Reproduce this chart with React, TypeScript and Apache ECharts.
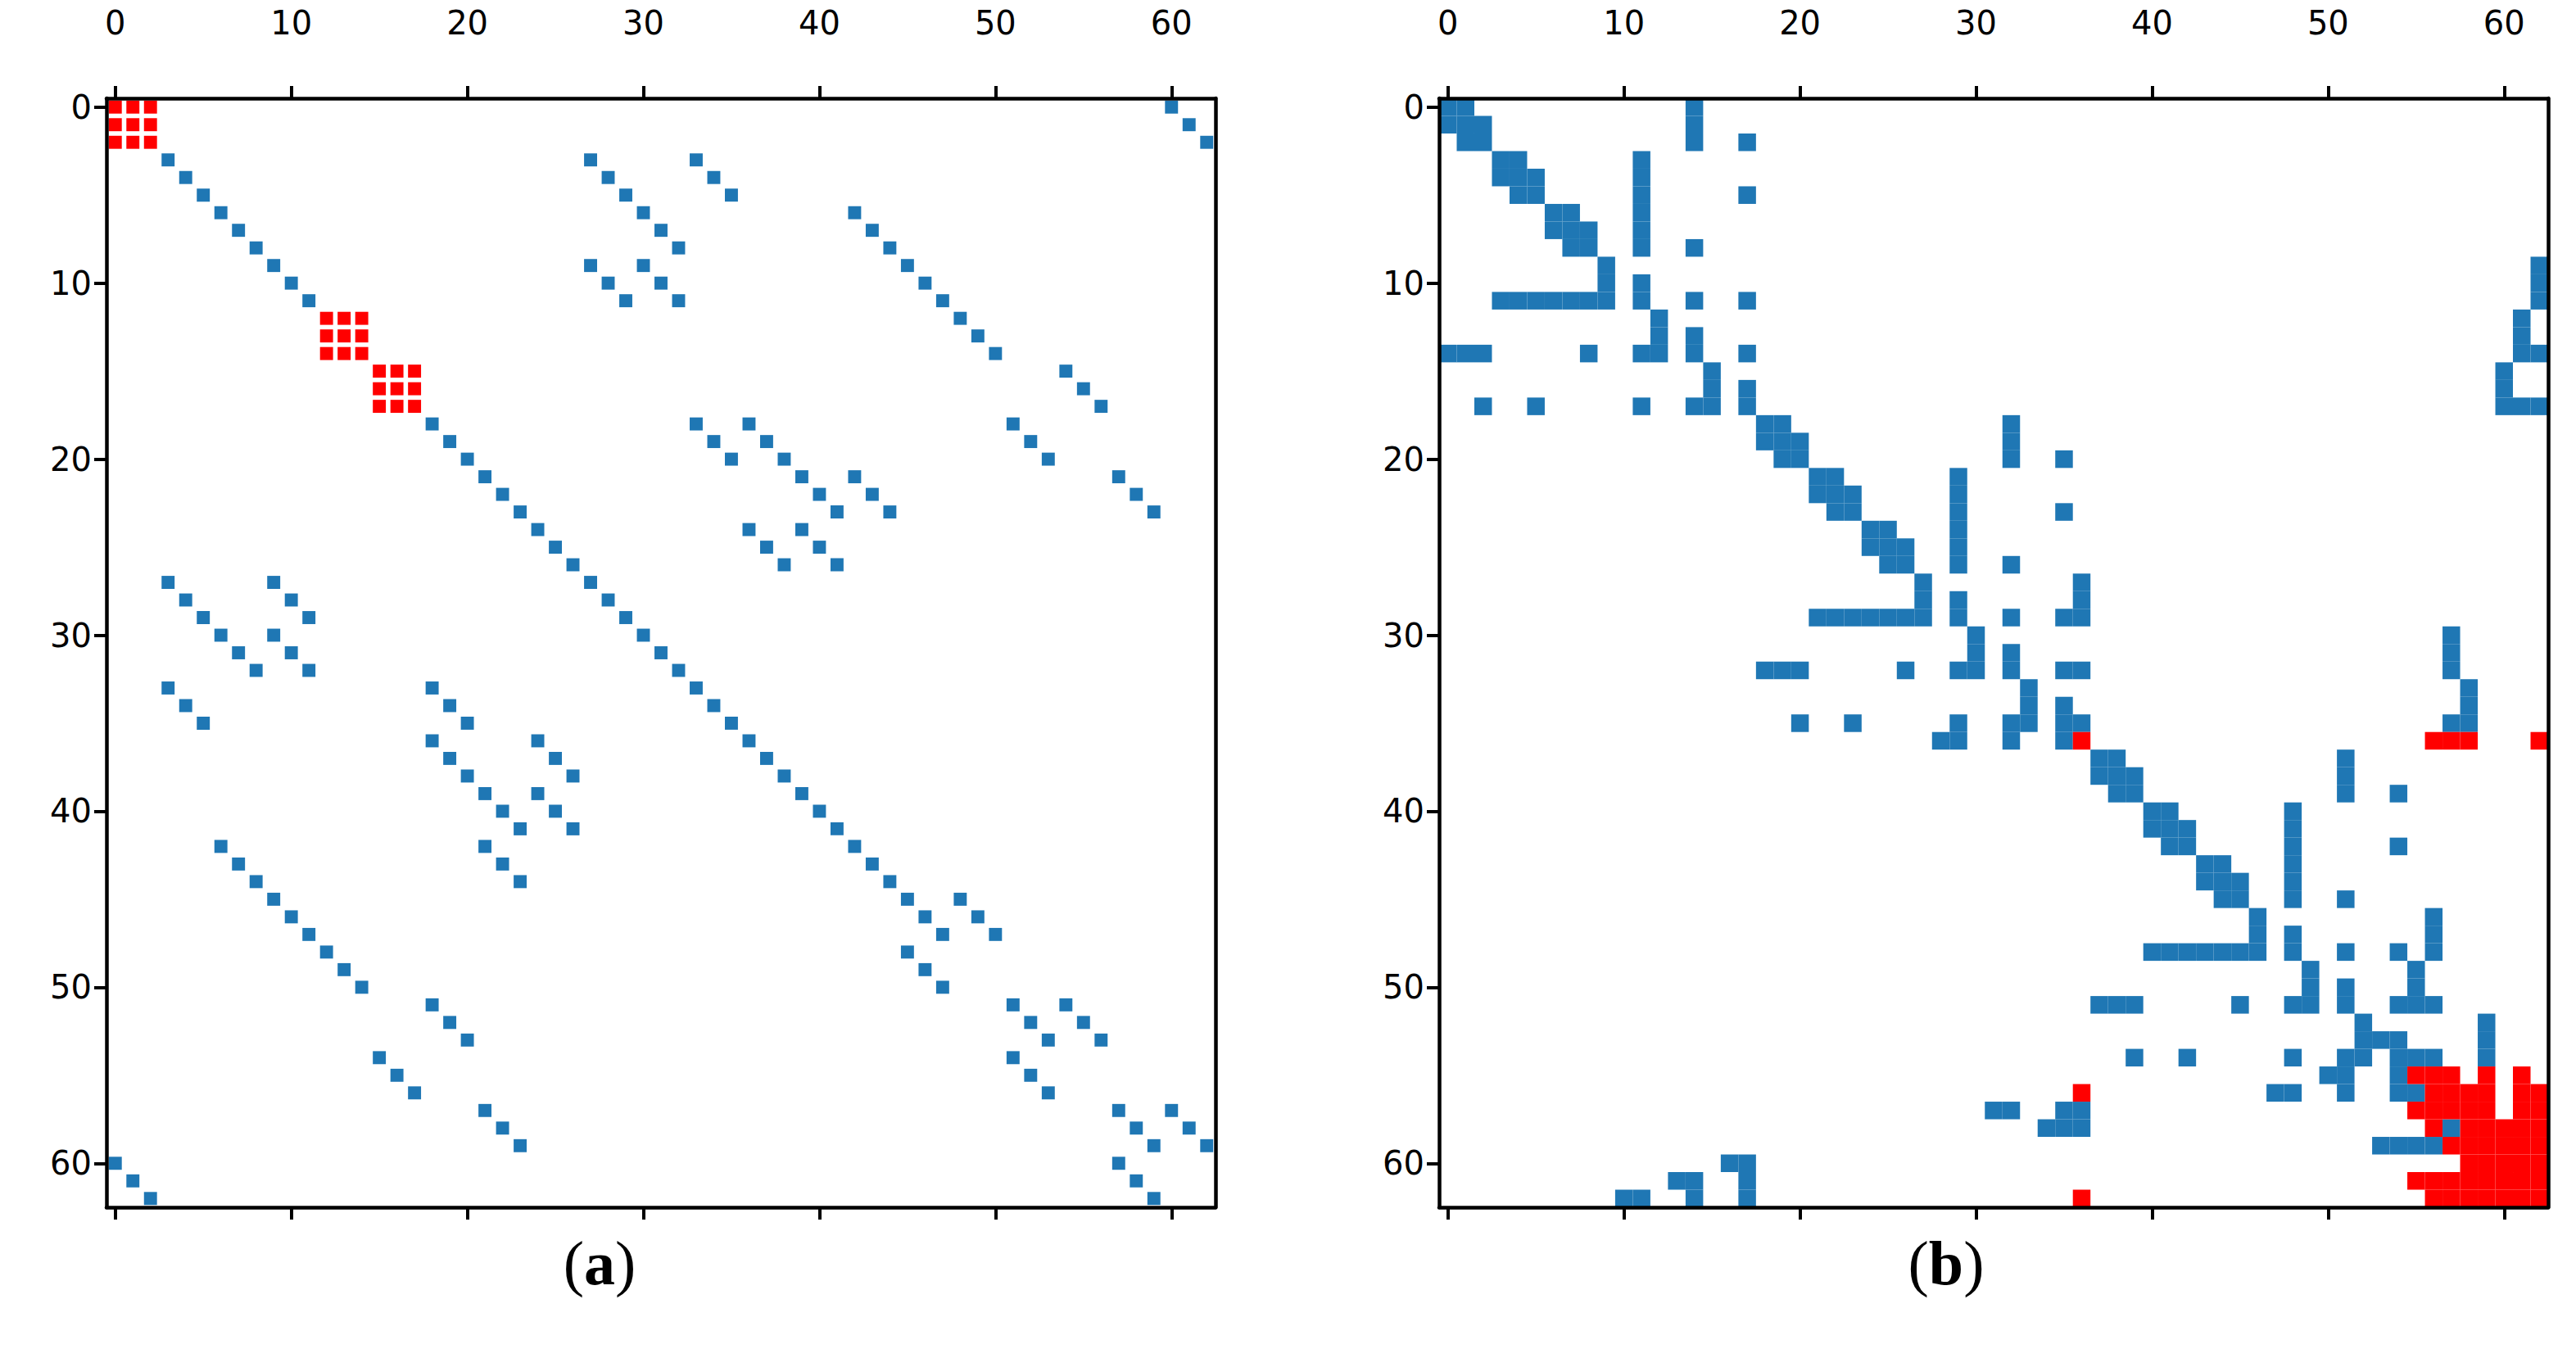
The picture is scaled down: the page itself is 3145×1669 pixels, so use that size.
import React, { useEffect, useRef } from "react";
import * as echarts from "echarts";

// ---------- data ----------
const N = 63;
const tickValues = [0, 10, 20, 30, 40, 50, 60];
const captionLetters = ["a", "b"];

// Panel (a): 21 x 21 blocks of size 3
const aBlockSize = 3;
// full (red) 3x3 diagonal blocks
const aFullBlocks = [0, 4, 5];
// identity 3x3 blocks [blockRow, blockCol]
const aIdentityBlocks: number[][] = [
  [0, 20], [1, 1], [1, 9], [1, 11], [2, 2], [2, 10], [2, 14],
  [3, 3], [3, 9], [3, 10], [3, 15], [4, 16], [5, 18],
  [6, 6], [6, 11], [6, 12], [6, 17], [7, 7], [7, 13], [7, 14], [7, 19],
  [8, 8], [8, 12], [8, 13], [9, 1], [9, 3], [9, 9], [10, 2], [10, 3], [10, 10],
  [11, 1], [11, 6], [11, 11], [12, 6], [12, 8], [12, 12], [13, 7], [13, 8], [13, 13],
  [14, 2], [14, 7], [14, 14], [15, 3], [15, 15], [15, 16], [16, 4], [16, 15],
  [17, 6], [17, 17], [17, 18], [18, 5], [18, 17], [19, 7], [19, 19], [19, 20],
  [20, 0], [20, 19],
];

// Panel (b): blue cells, one list of columns per row
const bBlueRows: number[][] = [
  [0, 1, 14],
  [0, 1, 2, 14],
  [1, 2, 14, 17],
  [3, 4, 11],
  [3, 4, 5, 11],
  [4, 5, 11, 17],
  [6, 7, 11],
  [6, 7, 8, 11],
  [7, 8, 11, 14],
  [9, 62],
  [9, 11, 62],
  [3, 4, 5, 6, 7, 8, 9, 11, 14, 17, 62],
  [12, 61],
  [12, 14, 61],
  [0, 1, 2, 8, 11, 12, 14, 17, 61, 62],
  [15, 60],
  [15, 17, 60],
  [2, 5, 11, 14, 15, 17, 60, 61, 62],
  [18, 19, 32],
  [18, 19, 20, 32],
  [19, 20, 32, 35],
  [21, 22, 29],
  [21, 22, 23, 29],
  [22, 23, 29, 35],
  [24, 25, 29],
  [24, 25, 26, 29],
  [25, 26, 29, 32],
  [27, 36],
  [27, 29, 36],
  [21, 22, 23, 24, 25, 26, 27, 29, 32, 35, 36],
  [30, 57],
  [30, 32, 57],
  [18, 19, 20, 26, 29, 30, 32, 35, 36, 57],
  [33, 58],
  [33, 35, 58],
  [20, 23, 29, 32, 33, 35, 36, 57, 58],
  [28, 29, 32, 35],
  [37, 38, 51],
  [37, 38, 39, 51],
  [38, 39, 51, 54],
  [40, 41, 48],
  [40, 41, 42, 48],
  [41, 42, 48, 54],
  [43, 44, 48],
  [43, 44, 45, 48],
  [44, 45, 48, 51],
  [46, 56],
  [46, 48, 56],
  [40, 41, 42, 43, 44, 45, 46, 48, 51, 54, 56],
  [49, 55],
  [49, 51, 55],
  [37, 38, 39, 45, 48, 49, 51, 54, 55, 56],
  [52, 59],
  [52, 53, 54, 59],
  [39, 42, 48, 51, 52, 54, 55, 56, 59],
  [50, 51, 54],
  [47, 48, 51, 54, 55],
  [31, 32, 35, 36],
  [34, 35, 36, 57],
  [53, 54, 55, 56],
  [16, 17],
  [13, 14, 17],
  [10, 11, 14, 17],
];

// Panel (b): red cells [row, columns]
const bRedRows: [number, number[]][] = [
  [36, [36, 56, 57, 58, 62]],
  [55, [55, 56, 57, 59, 61]],
  [56, [36, 56, 57, 58, 59, 61, 62]],
  [57, [55, 56, 57, 58, 59, 61, 62]],
  [58, [56, 58, 59, 60, 61, 62]],
  [59, [57, 58, 59, 60, 61, 62]],
  [60, [58, 59, 60, 61, 62]],
  [61, [55, 56, 57, 58, 59, 60, 61, 62]],
  [62, [36, 56, 57, 58, 59, 60, 61, 62]],
];

// ---------- derived point lists ----------
function buildA() {
  const blue: number[][] = [];
  const red: number[][] = [];
  aIdentityBlocks.forEach(([bi, bj]) => {
    for (let k = 0; k < aBlockSize; k++) blue.push([bj * aBlockSize + k, bi * aBlockSize + k]);
  });
  aFullBlocks.forEach((b) => {
    for (let r = 0; r < aBlockSize; r++)
      for (let c = 0; c < aBlockSize; c++) red.push([b * aBlockSize + c, b * aBlockSize + r]);
  });
  return { blue, red };
}
function buildB() {
  const blue: number[][] = [];
  const red: number[][] = [];
  bBlueRows.forEach((cols, r) => cols.forEach((c) => blue.push([c, r])));
  bRedRows.forEach(([r, cols]) => cols.forEach((c) => red.push([c, r])));
  return { blue, red };
}

const BLUE = "#1f77b4";
const RED = "#ff0000";

function cellSeries(data: number[][], color: string, idx: number, half: number) {
  return {
    type: "custom",
    xAxisIndex: idx * 2,
    yAxisIndex: idx * 2,
    data,
    encode: { x: 0, y: 1 },
    itemStyle: { color },
    renderItem: (params: any, api: any) => {
      const c = api.value(0);
      const r = api.value(1);
      const p0 = api.coord([c - half, r - half]);
      const p1 = api.coord([c + half, r + half]);
      return {
        type: "rect",
        shape: {
          x: Math.min(p0[0], p1[0]),
          y: Math.min(p0[1], p1[1]),
          width: Math.abs(p1[0] - p0[0]),
          height: Math.abs(p1[1] - p0[1]),
        },
        style: { fill: color },
      };
    },
  };
}

export default function App() {
  const ref = useRef<HTMLDivElement>(null);
  useEffect(() => {
    if (!ref.current) return;
    const chart = echarts.init(ref.current, undefined, { renderer: "svg" });
    const A = buildA();
    const B = buildB();

    const gridW = 1354;
    const grids = [
      { left: 130, top: 120, width: gridW, height: gridW },
      { left: 1757, top: 120, width: gridW, height: gridW },
    ];
    const lineStyle = { color: "#000", width: 4.5 };
    const baseLabel = {
      customValues: tickValues,
      color: "#000",
      fontSize: 40,
      fontFamily: "DejaVu Sans",
    };
    const tick = { show: true, customValues: tickValues, length: 15, lineStyle: { color: "#000", width: 4 } };

    const xAxes: any[] = [];
    const yAxes: any[] = [];
    [0, 1].forEach((g) => {
      xAxes.push({
        type: "value", gridIndex: g, position: "top", min: -0.5, max: N - 0.5, z: 10,
        axisLine: { show: true, onZero: false, lineStyle },
        axisTick: tick, axisLabel: { ...baseLabel, margin: 72 }, splitLine: { show: false },
      });
      xAxes.push({
        type: "value", gridIndex: g, position: "bottom", min: -0.5, max: N - 0.5, z: 10,
        axisLine: { show: true, onZero: false, lineStyle },
        axisTick: tick, axisLabel: { show: false }, splitLine: { show: false },
      });
      yAxes.push({
        type: "value", gridIndex: g, position: "left", inverse: true, min: -0.5, max: N - 0.5, z: 10,
        axisLine: { show: true, onZero: false, lineStyle },
        axisTick: tick, axisLabel: { ...baseLabel, margin: 18 }, splitLine: { show: false },
      });
      yAxes.push({
        type: "value", gridIndex: g, position: "right", inverse: true, min: -0.5, max: N - 0.5, z: 10,
        axisLine: { show: true, onZero: false, lineStyle },
        axisTick: { show: false }, axisLabel: { show: false }, splitLine: { show: false },
      });
    });

    const capStyle = (letter: string) => ({
      text: "{p|(}{b|" + letter + "}{p|)}",
      textAlign: "center",
      textVerticalAlign: "middle",
      rich: {
        p: { fontFamily: "Liberation Serif", fontSize: 76, color: "#000" },
        b: { fontFamily: "Liberation Serif", fontSize: 76, fontWeight: "bold", color: "#000" },
      },
    });

    chart.setOption({
      animation: false,
      backgroundColor: "#fff",
      grid: grids,
      xAxis: xAxes,
      yAxis: yAxes,
      series: [
        cellSeries(A.blue, BLUE, 0, 0.37),
        cellSeries(A.red, RED, 0, 0.37),
        cellSeries(B.blue, BLUE, 1, 0.5),
        cellSeries(B.red, RED, 1, 0.5),
      ],
      graphic: [
        { type: "text", x: 732, y: 1542, style: capStyle(captionLetters[0]) },
        { type: "text", x: 2376, y: 1542, style: capStyle(captionLetters[1]) },
      ],
    });
    return () => chart.dispose();
  }, []);
  return (
    <div
      ref={ref}
      style={{ position: "fixed", left: 0, top: 0, width: 3145, height: 1669, background: "#fff" }}
    />
  );
}
